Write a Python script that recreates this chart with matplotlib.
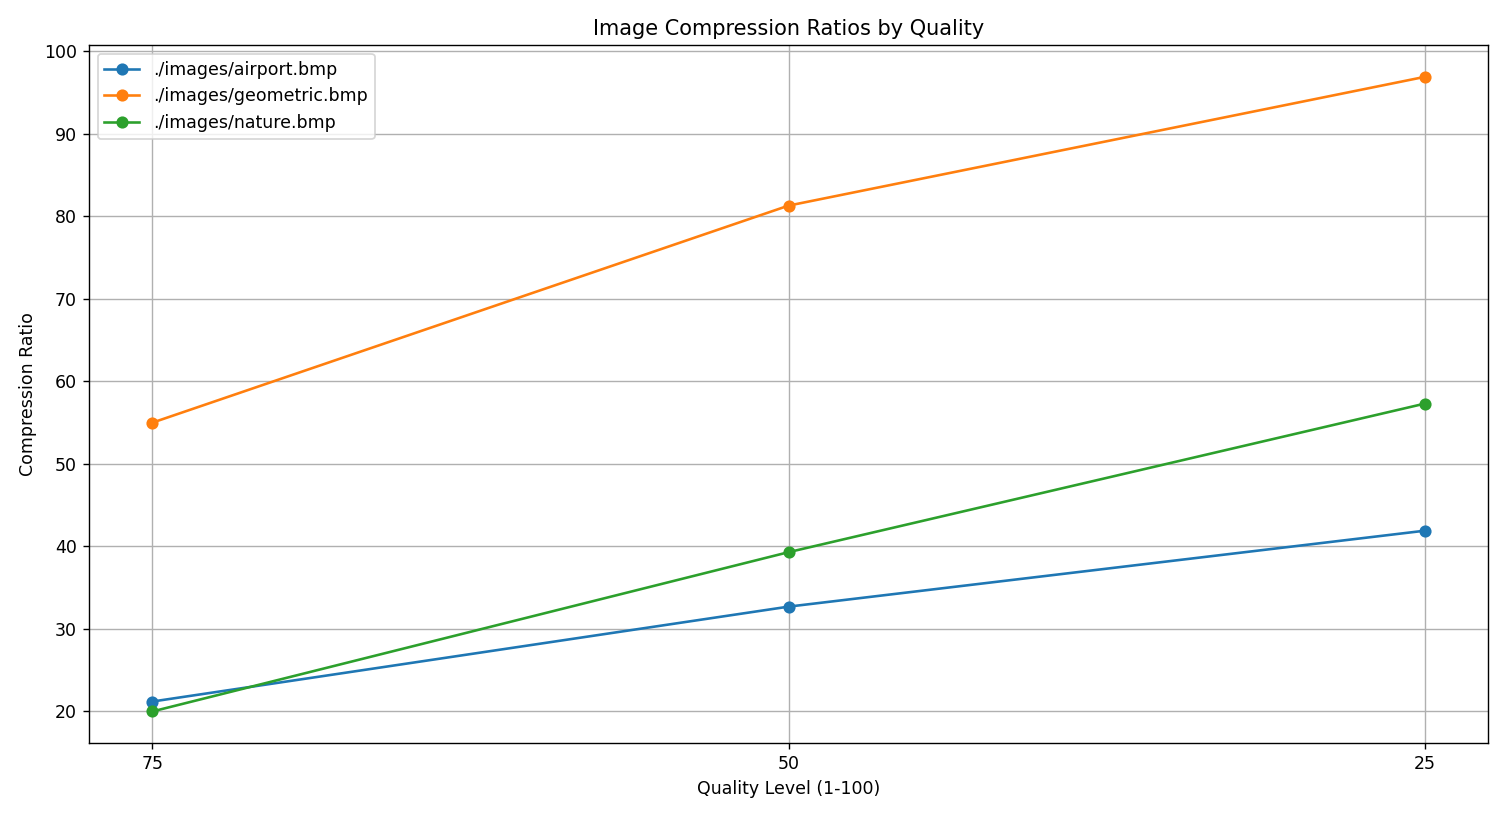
import matplotlib
matplotlib.use("Agg")
import matplotlib.pyplot as plt

quality_labels = ["75", "50", "25"]
airport = [21.2, 32.7, 41.9]
geometric = [55.0, 81.3, 96.9]
nature = [20.0, 39.3, 57.3]

series = [("./images/airport.bmp", airport),
          ("./images/geometric.bmp", geometric),
          ("./images/nature.bmp", nature)]

fig, ax = plt.subplots(figsize=(12.056, 6.536), dpi=125)
for name, vals in series:
    ax.plot(quality_labels, vals, marker="o", label=name)

ax.set_xlabel("Quality Level (1-100)")
ax.set_ylabel("Compression Ratio")
ax.set_title("Image Compression Ratios by Quality")
ax.grid(True)
ax.legend(loc="upper left")
fig.tight_layout()
fig.savefig("out.png", dpi=125)
